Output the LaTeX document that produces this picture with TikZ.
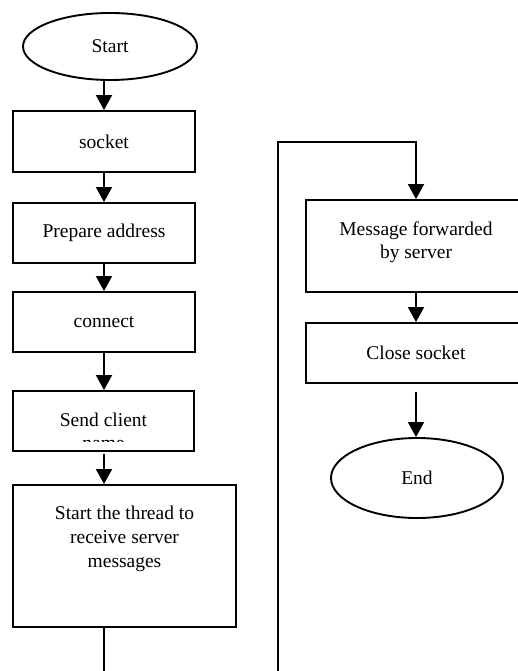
\documentclass[tikz,border=0pt]{standalone}
\usepackage{fontspec}
\setmainfont{Liberation Serif}
\usetikzlibrary{shapes.geometric,arrows.meta}

\tikzset{
  flow/.style={line width=1.9pt, draw=black},
  arr/.style={flow, -{Triangle[length=15pt,width=16pt]}},
  stepbox/.style={flow, rectangle, minimum width=#1, align=center, inner sep=0pt},
  term/.style={flow, ellipse, inner sep=0pt},
  txt/.style={align=center, inner sep=0pt, font=\fontsize{19.5}{23}\selectfont}
}

\begin{document}
\begin{tikzpicture}[x=1pt,y=1pt]
\useasboundingbox (0,0) rectangle (518,-671);
\clip (0,0) rectangle (518,-671);

% left column
\node[term, minimum width=174pt, minimum height=67pt] (start) at (110,-46.5) {};
\node[txt] at (start.center) {Start};

\node[stepbox=182pt, minimum height=61pt] (socket) at (104,-141.5) {};
\node[txt] at (socket.center) {socket};

\node[stepbox=182pt, minimum height=60pt] (prep) at (104,-233) {};
\node[txt] at (prep.center) {Prepare address};

\node[stepbox=182pt, minimum height=60pt] (conn) at (104,-322) {};
\node[txt] at (conn.center) {connect};

\node[stepbox=181pt, minimum height=60pt] (send) at (103.5,-421) {};
\begin{scope}
  \clip (14,-392) rectangle (193,-441);
  \node[txt, anchor=north] (sendtxt) at (103.5,-413) {Send client\\name};
\end{scope}

\node[stepbox=223pt, minimum height=142pt] (thread) at (124.5,-556) {};
\node[txt, anchor=north, font=\fontsize{19.5}{24}\selectfont] (threadtxt)
  at (thread.north) [yshift=-22pt]
  {Start the thread to\\receive server\\messages};

\coordinate (leftend) at (104,-671);

% right column
\node[stepbox=220pt, minimum height=92pt] (msg) at (416,-246) {};
\node[txt] at (416,-242) {Message forwarded\\by server};

\node[stepbox=220pt, minimum height=60pt] (close) at (416,-353) {};
\node[txt] at (close.center) {Close socket};

\node[term, minimum width=172pt, minimum height=80pt] (end) at (417,-478) {};
\node[txt] at (end.center) {End};

\coordinate (rbot) at (278,-671);
\coordinate (rtop) at (278,-142);

% connectors
\draw[arr] (start.south -| socket.north) -- (socket.north);
\draw[arr] (socket) -- (prep);
\draw[arr] (prep) -- (conn);
\draw[arr] (conn) -- (send.north -| conn.south);
\draw[arr, shorten <=2pt] (send.south -| socket.south) -- (thread.north -| socket.south);
\draw[flow] (thread.south -| leftend) -- (leftend);

\draw[arr] (rbot) -- (rtop) -| (msg.north);
\draw[arr] (msg) -- (close);
\draw[arr, shorten <=8pt] (close.south) -- (close.south |- end.north);
\end{tikzpicture}
\end{document}
